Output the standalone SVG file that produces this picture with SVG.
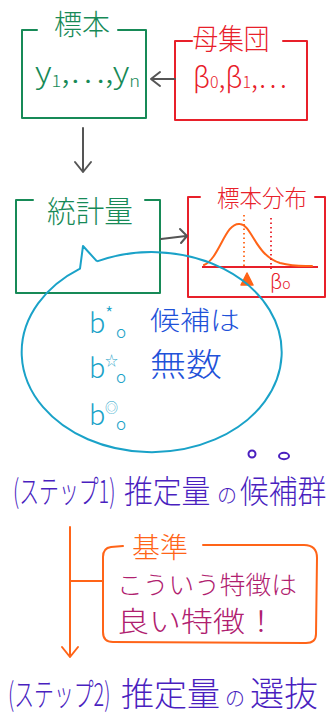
<svg xmlns="http://www.w3.org/2000/svg" width="330" height="716" viewBox="0 0 330 716">
<style>
text{font-family:"Noto Sans CJK JP","Noto Sans",sans-serif;font-weight:300;}
.g{fill:#178a57}
.r{fill:#e8202a}
.box{fill:none;stroke-width:2;stroke-linecap:round;stroke-linejoin:round}
.gs{stroke:#178a57}
.rs{stroke:#e8202a}
.arr{fill:none;stroke:#555;stroke-width:2;stroke-linecap:round;stroke-linejoin:round}
.or{fill:none;stroke:#ff6418;stroke-width:2;stroke-linecap:round;stroke-linejoin:round}
.cy{fill:#1aa2c8}
.bl{fill:#1f52d9}
.pu{fill:#4a1fbf}
.mg{fill:#b0206f}
.ot{fill:#ff6418}
</style>
<rect width="330" height="716" fill="#fff"/>
<g id="sample">
<path class="box gs" d="M37,30 L22,30 L22,118 L146,118 L146,30 L118,30"/>
<text class="g" x="82" y="35" font-size="28" text-anchor="middle">標本</text>
<text class="g" x="35" y="83" font-size="30" textLength="105" lengthAdjust="spacingAndGlyphs">y<tspan font-size="16" dy="4">1</tspan><tspan dy="-4">,…,</tspan>y<tspan font-size="16" dy="4">n</tspan></text>
</g>
<g id="population">
<path class="box rs" d="M192,41 L175,41 L175,120 L307,120 L307,41 L283,41"/>
<text class="r" x="231" y="50" font-size="29" text-anchor="middle" textLength="77" lengthAdjust="spacingAndGlyphs">母集団</text>
<text class="r" x="193" y="88" font-size="28" textLength="94" lengthAdjust="spacingAndGlyphs">β<tspan font-size="16">0</tspan>,β<tspan font-size="16">1</tspan>,…</text>
</g>
<g id="statistic">
<path class="box gs" d="M33,200 L16,200 L16,293 L160,293 L160,200 L145,200"/>
<text class="g" x="90" y="222" font-size="30" text-anchor="middle" textLength="86" lengthAdjust="spacingAndGlyphs">統計量</text>
</g>
<g id="sampling-distribution">
<path class="box rs" d="M200,197 L188,197 L188,297 L325,297 L325,197 L315,197"/>
<text class="r" x="262" y="207" font-size="24" text-anchor="middle" textLength="90" lengthAdjust="spacingAndGlyphs">標本分布</text>
<line x1="202" y1="267" x2="318" y2="267" stroke="#e8202a" stroke-width="2"/>
<path class="or" d="M204,265 C220,258 225,222 240,224 C252,225 255,255 280,263 C295,267 305,266 312,266"/>
<line x1="244" y1="215" x2="244" y2="268" stroke="#ff6418" stroke-width="1.8" stroke-dasharray="1.5 3"/>
<line x1="271" y1="218" x2="271" y2="270" stroke="#e8202a" stroke-width="1.8" stroke-dasharray="1.5 3"/>
<path d="M241,285 L247,273 L253,285 Z" fill="#ff6418" stroke="#ff6418" stroke-width="1.5" stroke-linejoin="round"/>
<text class="r" x="270" y="289" font-size="20">β<tspan font-size="14">o</tspan></text>
</g>
<g id="candidates">
<path d="M97,261.4 A130,100 0 1 1 80,268.7 L83,246 L97,261.4" fill="none" stroke="#1aa2c8" stroke-width="2" stroke-linejoin="round"/>
<text class="cy" font-size="27"><tspan x="89" y="333">b</tspan><tspan x="105" y="321" font-size="19">*</tspan><tspan x="116" y="338" font-size="17">o</tspan></text>
<text class="cy" font-size="27"><tspan x="89" y="378">b</tspan><tspan x="105" y="365" font-size="13">☆</tspan><tspan x="116" y="383" font-size="17">o</tspan></text>
<text class="cy" font-size="27"><tspan x="89" y="425">b</tspan><tspan x="105" y="412" font-size="13">◎</tspan><tspan x="116" y="430" font-size="17">o</tspan></text>
<text class="bl" x="150" y="330" font-size="26" textLength="90" lengthAdjust="spacingAndGlyphs">候補は</text>
<text class="bl" x="150" y="376" font-size="32" textLength="72" lengthAdjust="spacingAndGlyphs">無数</text>
</g>
<g id="step1">
<text class="pu" font-size="32" transform="translate(13,503) scale(0.62,1)">(ステップ1)</text>
<text class="pu" font-size="32" transform="translate(124,503) scale(0.9,1)">推定量</text>
<text class="pu" x="217" y="503" font-size="20">の</text>
<text class="pu" font-size="32" transform="translate(240,503) scale(0.9,1)">候補群</text>
<ellipse cx="252" cy="454" rx="3.5" ry="3.5" fill="none" stroke="#4a1fbf" stroke-width="2"/>
<ellipse cx="284" cy="456" rx="5" ry="3.2" fill="none" stroke="#4a1fbf" stroke-width="2"/>
</g>
<g id="criterion">
<path class="or" d="M123,546 L111,547 Q103,548 103,557 L103,632 Q103,642 113,642 L306,643 Q316,643 316,634 L317,558 Q317,545 304,545 L203,545"/>
<text class="ot" x="160" y="558" font-size="28" text-anchor="middle">基準</text>
<text class="mg" x="117" y="594" font-size="25" textLength="180" lengthAdjust="spacingAndGlyphs">こういう特徴は</text>
<text class="mg" x="117" y="632" font-size="28" textLength="160" lengthAdjust="spacingAndGlyphs">良い特徴！</text>
</g>
<g id="step2">
<text class="pu" font-size="32" transform="translate(8,706) scale(0.62,1)">(ステップ2)</text>
<text class="pu" x="121" y="706" font-size="33">推定量</text>
<text class="pu" x="225" y="706" font-size="20">の</text>
<text class="pu" x="250" y="706" font-size="34">選抜</text>
</g>
<g id="connectors">
<path class="arr" d="M175,79 L151,79 M160,72 L151,79 L160,86"/>
<path class="arr" d="M83,128 L83,172 M75,162 L83,172 L91,162"/>
<path class="arr" d="M161,239 L186,236 M180,229 L187,236 L181,243"/>
<path class="or" d="M70,527 L70,657 M62,647 L70,657 L78,647 M70,581 L103,581"/>
</g>
</svg>
